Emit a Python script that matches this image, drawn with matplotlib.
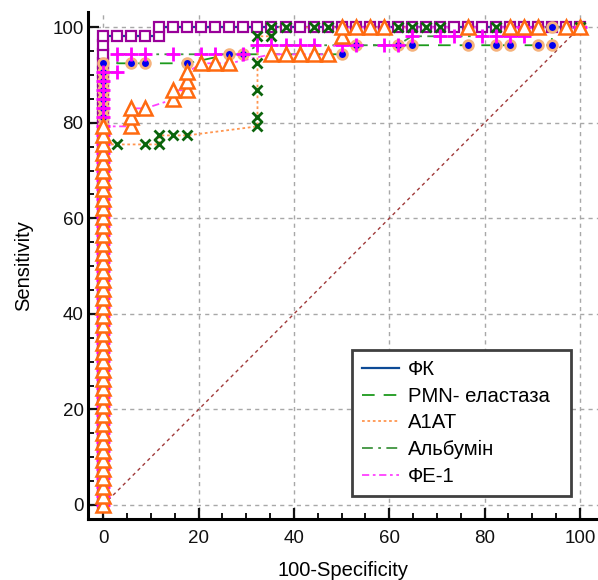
#!/usr/bin/env python3
"""ROC curves for five faecal markers (MedCalc-style plot)."""

import matplotlib.pyplot as plt
from matplotlib.lines import Line2D
from matplotlib.ticker import MultipleLocator

plt.rcParams["font.family"] = ["Liberation Sans", "DejaVu Sans"]

# sensitivity steps available on the x = 0 column (positive group, n = 53)
SENS_STEPS = [0.0, 1.89, 3.77, 5.66, 7.55, 9.43, 11.32, 13.21, 15.09, 16.98,
              18.87, 20.75, 22.64, 24.53, 26.42, 28.30, 30.19, 32.08, 33.96,
              35.85, 37.74, 39.62, 41.51, 43.40, 45.28, 47.17, 49.06, 50.94,
              52.83, 54.72, 56.60, 58.49, 60.38, 62.26, 64.15, 66.04, 67.92,
              69.81, 71.70, 73.58, 75.47, 77.36, 79.25, 81.13, 83.02, 84.91,
              86.79, 88.68, 90.57, 92.45, 94.34, 96.23, 98.11, 100.0]

LABELS = ["ФК", "PMN- еластаза  ", "A1AT", "Альбумін", "ФЕ-1"]

# highest sensitivity reached while 100-Specificity is still 0
fk_col_top = 98.11
fk_x = [2.94, 5.88, 8.82, 11.76, 11.76, 14.71, 17.65, 20.59, 23.53, 26.47,
        29.41, 32.35, 35.29, 38.24, 41.18, 44.12, 47.06, 50.0, 52.94, 55.88,
        58.82, 61.76, 64.71, 67.65, 70.59, 73.53, 76.47, 79.41, 82.35, 85.29,
        88.24, 91.18, 94.12, 97.06, 100.0]
fk_y = [98.11, 98.11, 98.11, 98.11, 100, 100, 100, 100, 100, 100,
        100, 100, 100, 100, 100, 100, 100, 100, 100, 100,
        100, 100, 100, 100, 100, 100, 100, 100, 100, 100,
        100, 100, 100, 100, 100]

pmn_col_top = 92.45
pmn_x = [5.88, 8.82, 17.65, 26.47, 29.41, 50.0, 52.94, 61.76, 64.71, 76.47,
         82.35, 85.29, 91.18, 94.12, 94.12, 100.0]
pmn_y = [92.45, 92.45, 92.45, 94.34, 94.34, 94.34, 96.23, 96.23, 96.23, 96.23,
         96.23, 96.23, 96.23, 96.23, 100, 100]

a1at_col_top = 75.47
a1at_x = [2.94, 8.82, 11.76, 11.76, 14.71, 17.65, 32.35, 32.35, 32.35, 32.35,
          32.35, 35.29, 35.29, 38.24, 44.12, 47.06, 61.76, 64.71, 67.65, 70.59,
          82.35, 100.0]
a1at_y = [75.47, 75.47, 75.47, 77.36, 77.36, 77.36, 79.25, 81.13, 86.79, 92.45,
          98.11, 98.11, 100, 100, 100, 100, 100, 100, 100, 100,
          100, 100]

alb_col_top = 90.57
alb_x = [2.94, 2.94, 5.88, 8.82, 14.71, 20.59, 23.53, 29.41, 32.35, 35.29,
         38.24, 41.18, 44.12, 50.0, 52.94, 58.82, 61.76, 64.71, 70.59, 73.53,
         79.41, 82.35, 85.29, 88.24, 88.24, 100.0]
alb_y = [90.57, 94.34, 94.34, 94.34, 94.34, 94.34, 94.34, 94.34, 96.23, 96.23,
         96.23, 96.23, 96.23, 96.23, 96.23, 96.23, 96.23, 98.11, 98.11, 98.11,
         98.11, 98.11, 98.11, 98.11, 100, 100]

fe1_col_top = 79.25
fe1_x = [5.88, 5.88, 5.88, 8.82, 14.71, 14.71, 17.65, 17.65, 17.65, 20.59,
         23.53, 26.47, 35.29, 38.24, 41.18, 44.12, 47.06, 50.0, 50.0, 52.94,
         55.88, 58.82, 76.47, 85.29, 88.24, 91.18, 97.06, 100.0]
fe1_y = [79.25, 81.13, 83.02, 83.02, 84.91, 86.79, 86.79, 88.68, 90.57, 92.45,
         92.45, 92.45, 94.34, 94.34, 94.34, 94.34, 94.34, 98.11, 100, 100,
         100, 100, 100, 100, 100, 100, 100, 100]

diag_x = [0, 100]
diag_y = [0, 100]

# line styles (legend) per series
LINE_STYLES = [
    dict(color="#0d4a96", lw=1.6, ls="-"),
    dict(color="#1c9a1c", lw=1.3, ls=(0, (7, 5))),
    dict(color="#ff9650", lw=1.3, ls=(0, (1.5, 1.5))),
    dict(color="#3f943f", lw=1.3, ls=(0, (6, 3, 1.5, 3))),
    dict(color="#ff40ff", lw=1.3, ls=(0, (4, 2, 1.5, 2))),
]

MARKERS = [
    dict(marker="s", ms=7.8, mfc="white", mec="#990099", mew=1.6),
    dict(marker="o", ms=7.0, mfc="#0000ee", mec="#f5b27c", mew=2.0),
    dict(marker="x", ms=7.0, mfc="none", mec="#0b640b", mew=2.0),
    dict(marker="+", ms=9.5, mfc="none", mec="#ff00ff", mew=2.0),
    dict(marker="^", ms=9.5, mfc="white", mec="#ff6a10", mew=1.8),
]


def full_curve(col_top, xs, ys):
    col = [v for v in SENS_STEPS if v <= col_top]
    return [0.0] * len(col) + xs, col + ys


def main():
    fig = plt.figure(figsize=(5.98, 5.80), dpi=100)
    ax = fig.add_axes([0.1467, 0.1047, 0.8533, 0.8747])

    ax.set_xlim(-3.27, 103.8)
    ax.set_ylim(-2.99, 103.2)

    ax.grid(True, color="#a8a8a8", lw=1.0, ls=(0, (3, 3)), zorder=0)
    ax.set_axisbelow(True)

    ax.plot(diag_x, diag_y, color="#a03a3a", lw=1.0, ls=(0, (2.5, 2.5)), zorder=1)

    curves = [
        full_curve(fk_col_top, fk_x, fk_y),
        full_curve(pmn_col_top, pmn_x, pmn_y),
        full_curve(a1at_col_top, a1at_x, a1at_y),
        full_curve(alb_col_top, alb_x, alb_y),
        full_curve(fe1_col_top, fe1_x, fe1_y),
    ]

    for (xs, ys), st in zip(curves, LINE_STYLES):
        ax.plot(xs, ys, zorder=2, **st)

    # marker draw order: squares, circles, plus, cross, triangles
    for idx in [0, 1, 3, 2, 4]:
        xs, ys = curves[idx]
        ax.plot(xs, ys, ls="none", zorder=3 + idx * 0.1, **MARKERS[idx])

    for side in ("top", "right"):
        ax.spines[side].set_visible(False)
    for side in ("left", "bottom"):
        ax.spines[side].set_linewidth(2.2)

    ax.xaxis.set_major_locator(MultipleLocator(20))
    ax.yaxis.set_major_locator(MultipleLocator(20))
    ax.xaxis.set_minor_locator(MultipleLocator(5))
    ax.yaxis.set_minor_locator(MultipleLocator(5))
    ax.tick_params(which="major", direction="in", length=8, width=1.6,
                   labelsize=13.5, colors="#111111")
    ax.tick_params(which="minor", direction="in", length=4.5, width=1.3)
    ax.tick_params(axis="x", which="major", pad=8)
    ax.tick_params(axis="y", which="major", pad=3)

    ax.set_xlabel("100-Specificity", fontsize=14.5, labelpad=10)
    ax.set_ylabel("Sensitivity", fontsize=14.5, labelpad=14)

    handles = [Line2D([], [], **st) for st in LINE_STYLES]
    leg = ax.legend(handles, LABELS, loc="lower right",
                    bbox_to_anchor=(0.947, 0.046), borderaxespad=0,
                    fontsize=14.6, handlelength=1.8, handletextpad=0.45,
                    labelspacing=0.38, borderpad=0.5, fancybox=False,
                    framealpha=1, edgecolor="#404040")
    leg.get_frame().set_linewidth(2.0)
    leg.set_zorder(5)

    fig.savefig("out.png", dpi=100, facecolor="white")
    plt.close(fig)


if __name__ == "__main__":
    main()
